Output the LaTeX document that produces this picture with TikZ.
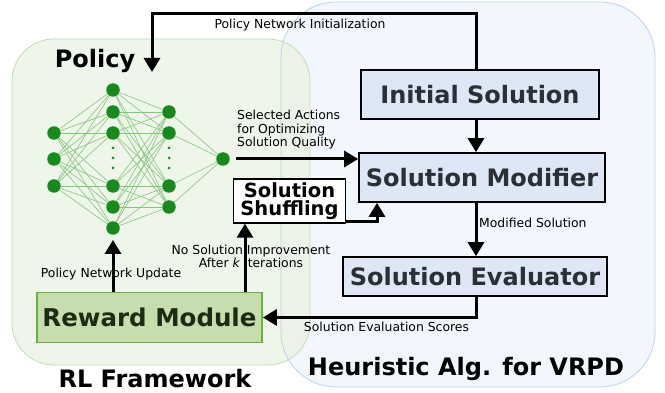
\documentclass[tikz,border=0pt]{standalone}
\usepackage{fontspec}
\setmainfont{DejaVu Sans}
\usepackage{tikz}
\usetikzlibrary{arrows.meta,positioning}
\definecolor{panelgreen}{HTML}{EAF2E3}
\definecolor{panelgreenedge}{HTML}{C3DCB2}
\definecolor{panelblue}{HTML}{F2F6FD}
\definecolor{panelblueedge}{HTML}{BAD2F2}
\definecolor{boxblue}{HTML}{DEE7F6}
\definecolor{boxtext}{HTML}{2B2F36}
\definecolor{rewardfill}{HTML}{C6DEAD}
\definecolor{rewardedge}{HTML}{6BAE42}
\definecolor{rewardtext}{HTML}{1C2B12}
\definecolor{neurongreen}{HTML}{178A1C}
\definecolor{edgegreen}{HTML}{84C67D}

\begin{document}
\begin{tikzpicture}[
    x=1pt, y=-1pt,
    box/.style={draw, line width=1.7pt, fill=boxblue, text=boxtext, inner sep=0pt,
                font=\fontsize{24}{26}\selectfont\bfseries},
    neuron/.style={circle, fill=neurongreen, inner sep=0pt, minimum size=13.5pt},
    dot/.style={circle, fill=neurongreen, inner sep=0pt, minimum size=3pt},
    edge/.style={draw=edgegreen, line width=0.6pt},
    arrow/.style={-{Triangle[length=14pt,width=16pt]}, line width=3pt},
    lbl/.style={font=\fontsize{12.4}{13.5}\selectfont, inner sep=0pt},
    title/.style={font=\fontsize{24}{28}\selectfont\bfseries, inner sep=0pt}
]
\useasboundingbox (0,0) rectangle (665,393);

% the two framework panels, green laid over blue
\fill[panelblue, rounded corners=55pt] (281,2) rectangle (655,387);
\draw[draw=panelgreenedge, fill=panelgreen, fill opacity=0.8, line width=0.8pt, rounded corners=42pt]
    (12,39) rectangle (310,365);
\draw[panelblueedge, line width=0.8pt, rounded corners=55pt] (281,2) rectangle (655,387);

\node[title, anchor=base] (policytitle) at (95,68) {Policy};
\node[title, anchor=base] (rltitle) at (155,388) {RL Framework};
\node[title, anchor=base] (heurtitle) at (466,375) {Heuristic Alg. for VRPD};

% policy network
\foreach \y [count=\i] in {133,159,186}
    \node[neuron] (i\i) at (54,\y) {};
\foreach \y [count=\i] in {90,112,133,186,207,228}
    \node[neuron] (a\i) at (113,\y) {};
\foreach \y [count=\i] in {112,133,186,207}
    \node[neuron] (b\i) at (169,\y) {};
\node[neuron] (out) at (223,159) {};
\foreach \i in {1,2,3}
    \foreach \j in {1,...,6}
        \draw[edge] (i\i) -- (a\j);
\foreach \i in {1,...,6}
    \foreach \j in {1,...,4}
        \draw[edge] (a\i) -- (b\j);
\foreach \j in {1,...,4}
    \draw[edge] (b\j) -- (out);
\foreach \y [count=\k] in {148,158,168} {
    \node[dot] (ad\k) at (113,\y) {};
    \node[dot] (bd\k) at (169,\y) {};
}

% heuristic blocks
\node[box, minimum width=238pt, minimum height=49pt] (initsol) at (480,94.5) {Initial Solution};
\node[box, minimum width=246pt, minimum height=49pt] (modifier) at (482,177.5) {Solution Modifier};
\node[box, minimum width=264pt, minimum height=39pt] (evaluator) at (475,276.5) {Solution Evaluator};
\node[box, fill=white, text=black, line width=1.4pt, minimum width=112pt, minimum height=44pt,
      align=center, font=\fontsize{19.5}{18.5}\selectfont\bfseries] (shuffle) at (289.5,201)
      {Solution\\Shuffling};
\node[box, draw=rewardedge, fill=rewardfill, text=rewardtext, minimum width=225pt,
      minimum height=50pt, font=\fontsize{24.5}{26}\selectfont\bfseries] (reward) at (149.5,317.5)
      {Reward Module};

\coordinate (spine) at (476,0);
\coordinate (topy) at (0,14);
\coordinate (polin) at (152,72);
\coordinate (shufx) at (377,0);
\coordinate (kx) at (245,0);

% labels
\node[lbl] (initlbl) at (300,25) {Policy Network Initialization};
\node[lbl, anchor=north west, align=left] (actlbl) at (237,110)
    {Selected Actions\\for Optimizing\\Solution Quality};
\node[lbl, anchor=base west] (modlbl) at (479,228) {Modified Solution};
\node[lbl, anchor=base] (evallbl) at (386.5,331) {Solution Evaluation Scores};
\node[lbl, anchor=base] (updlbl) at (111,277) {Policy Network Update};
\node[lbl, anchor=north, align=center, font=\fontsize{12.4}{12.5}\selectfont] (klbl) at (251,245)
    {No Solution Improvement\\After \textit{k} Iterations};

% connectors
\draw[arrow] (initsol.north -| spine) |- (polin |- topy) -- (polin);
\draw[arrow] (initsol.south -| spine) -- (modifier.north -| spine);
\draw[arrow, shorten <=6pt] (out) -- (out -| modifier.west);
\draw[arrow] ([yshift=2.5pt]shuffle.south east) -| (shufx |- modifier.south);
\draw[arrow] (modifier.south -| spine) -- (evaluator.north -| spine);
\draw[arrow] (evaluator.south -| spine) |- (reward.east);
\draw[arrow, shorten >=5pt] (reward.north -| a6) -- (a6);
\draw[arrow] (reward.north -| kx) -- (shuffle.south -| kx);
\end{tikzpicture}
\end{document}
